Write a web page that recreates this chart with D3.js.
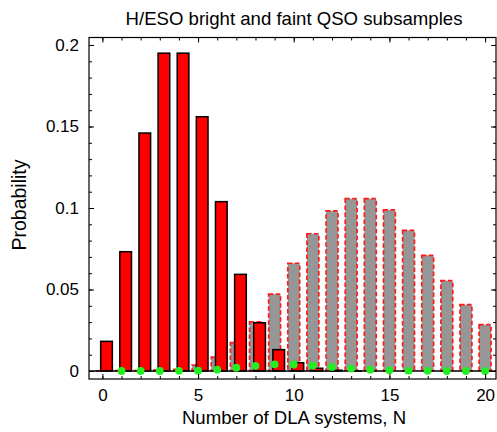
<!DOCTYPE html>
<html>
<head>
<meta charset="utf-8">
<script src="https://cdn.jsdelivr.net/npm/d3@7"></script>
<style>
  body { margin: 0; background: #fff; }
  svg { display: block; font-family: "Liberation Sans", Arial, Helvetica, sans-serif; }
  .axis path { display: none; }
  .axis line { stroke: #000; stroke-width: 1; }
  .axis text { font-size: 17px; fill: #000; }
</style>
</head>
<body>
<div id="chart"></div>
<script>
var counts = d3.range(0, 21);
// bright subsample (red bars)
var bright = [0.0182, 0.0732, 0.146, 0.195, 0.195, 0.156, 0.1039, 0.0593, 0.0296, 0.0131,
              0.0051, 0.0017, 0.0005, 0.0001, 0, 0, 0, 0, 0, 0, 0];
// faint subsample (grey bars)
var faint = [0.0001, 0.0002, 0.0003, 0.0005, 0.001, 0.0037, 0.0085, 0.0174, 0.0302, 0.0472,
             0.0661, 0.0842, 0.0982, 0.1057, 0.1057, 0.0988, 0.0863, 0.071, 0.0554, 0.0407, 0.0284];
// green points
var dotN = d3.range(1, 21);
var dots = [0, 0, 0, 0.0001, 0.0002, 0.0008, 0.002, 0.0032, 0.0041, 0.004,
            0.0033, 0.0025, 0.0015, 0.0008, 0.0004, 0.0002, 0.0001, 0, 0, 0];
var xTicks = [0, 5, 10, 15, 20];
var yTicks = [0, 0.05, 0.1, 0.15, 0.2];

var width = 497, height = 432;
var mLeft = 89, mRight = 496, mTop = 37.5, mBottom = 379;

var svg = d3.select('#chart').append('svg').attr('width', width).attr('height', height);

var x = d3.scaleLinear().domain([-0.7, 20.57]).range([mLeft, mRight]);
var y = d3.scaleLinear().domain([-0.0049, 0.2046]).range([mBottom, mTop]);

// faint bars behind
svg.append('g').selectAll('rect').data(counts).enter().append('rect')
  .attr('x', function(d) { return x(d - 0.31); })
  .attr('width', function(d) { return x(d + 0.31) - x(d - 0.31); })
  .attr('y', function(d) { return y(faint[d]); })
  .attr('height', function(d) { return y(0) - y(faint[d]); })
  .style('fill', '#969696')
  .style('stroke', '#ff1a1a')
  .style('stroke-width', 1.7)
  .style('stroke-dasharray', '4.5,2.5');

// bright bars in front
svg.append('g').selectAll('rect').data(counts).enter().append('rect')
  .attr('x', function(d) { return x(d - 0.09); })
  .attr('width', function(d) { return x(d + 0.52) - x(d - 0.09); })
  .attr('y', function(d) { return y(bright[d]); })
  .attr('height', function(d) { return y(0) - y(bright[d]); })
  .style('fill', '#ff0000')
  .style('stroke', '#000')
  .style('stroke-width', 1.5);

// zero line
svg.append('line')
  .attr('x1', mLeft).attr('x2', mRight)
  .attr('y1', y(0)).attr('y2', y(0))
  .style('stroke', '#000').style('stroke-width', 1.3);

svg.append('g').selectAll('circle').data(dotN).enter().append('circle')
  .attr('cx', function(d) { return x(d); })
  .attr('cy', function(d, i) { return y(dots[i]); })
  .attr('r', 3.9)
  .style('fill', '#22ee22');

// axes: minor and major ticks, pointing inward
var minorX = d3.range(0, 21), minorY = d3.range(0, 21).map(function(i) { return i / 100; });
svg.append('g').attr('class', 'axis').attr('transform', 'translate(0,' + mBottom + ')')
  .call(d3.axisBottom(x).tickValues(minorX).tickSize(-3).tickFormat(''));
svg.append('g').attr('class', 'axis').attr('transform', 'translate(0,' + mBottom + ')')
  .call(d3.axisBottom(x).tickValues(xTicks).tickSize(-5).tickPadding(10).tickFormat(d3.format('d')));
svg.append('g').attr('class', 'axis').attr('transform', 'translate(0,' + mTop + ')')
  .call(d3.axisTop(x).tickValues(minorX).tickSize(-3).tickFormat(''));
svg.append('g').attr('class', 'axis').attr('transform', 'translate(0,' + mTop + ')')
  .call(d3.axisTop(x).tickValues(xTicks).tickSize(-5).tickFormat(''));
svg.append('g').attr('class', 'axis').attr('transform', 'translate(' + mLeft + ',0)')
  .call(d3.axisLeft(y).tickValues(minorY).tickSize(-3).tickFormat(''));
svg.append('g').attr('class', 'axis').attr('transform', 'translate(' + mLeft + ',0)')
  .call(d3.axisLeft(y).tickValues(yTicks).tickSize(-5).tickPadding(10).tickFormat(d3.format('~g')));
svg.append('g').attr('class', 'axis').attr('transform', 'translate(' + mRight + ',0)')
  .call(d3.axisRight(y).tickValues(minorY).tickSize(-3).tickFormat(''));
svg.append('g').attr('class', 'axis').attr('transform', 'translate(' + mRight + ',0)')
  .call(d3.axisRight(y).tickValues(yTicks).tickSize(-5).tickFormat(''));

// frame
svg.append('rect')
  .attr('x', mLeft).attr('y', mTop)
  .attr('width', mRight - mLeft).attr('height', mBottom - mTop)
  .style('fill', 'none').style('stroke', '#000').style('stroke-width', 1.2);

svg.append('text')
  .attr('x', 294).attr('y', 25)
  .attr('text-anchor', 'middle')
  .style('font-size', '18.6px')
  .text('H/ESO bright and faint QSO subsamples');

svg.append('text')
  .attr('x', 294).attr('y', 424)
  .attr('text-anchor', 'middle')
  .style('font-size', '18.6px')
  .text('Number of DLA systems, N');

svg.append('text')
  .attr('transform', 'translate(26,205) rotate(-90)')
  .attr('text-anchor', 'middle')
  .style('font-size', '19.5px')
  .text('Probability');
</script>
</body>
</html>
